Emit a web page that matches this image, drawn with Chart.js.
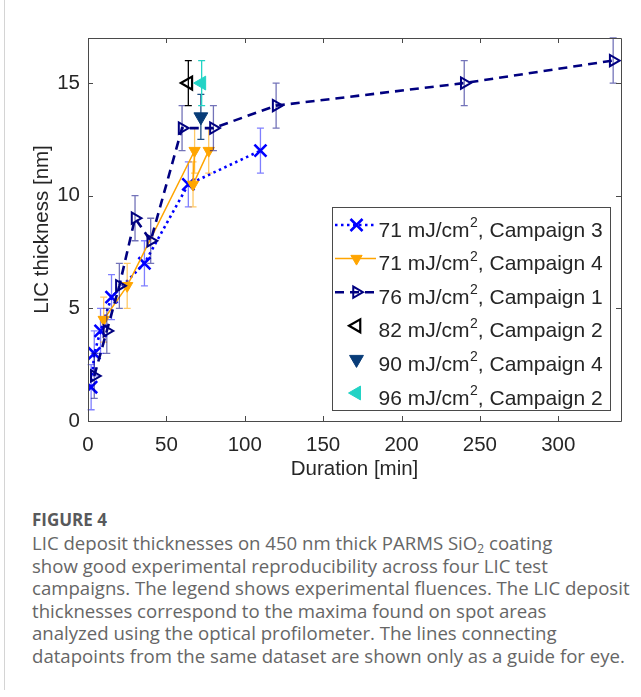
<!DOCTYPE html>
<html><head><meta charset="utf-8">
<script src="https://cdn.jsdelivr.net/npm/chart.js@4.4.1/dist/chart.umd.min.js"></script>
<style>
html,body{margin:0;padding:0;background:#fff;}
#wrap{position:relative;width:641px;height:697px;overflow:hidden;background:#fff;}
#frame{position:absolute;left:4px;top:0;width:1px;height:690px;background:#d4d4d4;}
#chart{position:absolute;left:0;top:0;}
#cap{position:absolute;left:32px;top:508px;font-family:'Open Sans',Lato,sans-serif;color:#666;}
#cap .fig{font-weight:bold;font-size:17px;color:#58595b;line-height:24px;}
#cap .ln{font-size:18.6px;line-height:22.6px;white-space:nowrap;}
#cap sub{font-size:12px;vertical-align:-3px;line-height:0;}
</style></head>
<body>
<div id="wrap">
<div id="frame"></div>
<canvas id="chart" width="641" height="490"></canvas>
<div id="cap">
<div class="fig">FIGURE 4</div>
<div class="ln">LIC deposit thicknesses on 450 nm thick PARMS SiO<sub>2</sub> coating</div>
<div class="ln">show good experimental reproducibility across four LIC test</div>
<div class="ln">campaigns. The legend shows experimental fluences. The LIC deposit</div>
<div class="ln">thicknesses correspond to the maxima found on spot areas</div>
<div class="ln">analyzed using the optical profilometer. The lines connecting</div>
<div class="ln">datapoints from the same dataset are shown only as a guide for eye.</div>
</div>
</div>
<script>
// ---- data ----
const xTickValues = [0, 50, 100, 150, 200, 250, 300];
const yTickValues = [0, 5, 10, 15];

const c3Duration  = [2, 4, 8, 15, 36, 64, 110];
const c3Thickness = [1.5, 3, 4, 5.5, 7, 10.5, 12];
const c3Error     = [1, 1, 1, 1, 1, 1, 1];

const c4Duration  = [10, 25, 68, 67, 77];
const c4Thickness = [4.5, 6, 12, 10.5, 12];
const c4Error     = [1, 1, 1, 1, 1];

const c1Duration  = [4, 12, 20, 30, 40, 60, 80, 120, 240, 335];
const c1Thickness = [2, 4, 6, 9, 8, 13, 13, 14, 15, 16];
const c1Error     = [1, 1, 1, 1, 1, 1, 1, 1, 1, 1];

const f82Duration = [64];   const f82Thickness = [15];   const f82Error = [1];
const f90Duration = [72];   const f90Thickness = [13.5]; const f90Error = [1];
const f96Duration = [72.5]; const f96Thickness = [15];   const f96Error = [1];

const legendFluence  = [71, 71, 76, 82, 90, 96];
const legendCampaign = [3, 4, 1, 2, 4, 2];

const pts = (xs, ys) => xs.map((x, i) => ({x: x, y: ys[i]}));

const NAVY = '#000080', BLUE = '#0000ff', ORANGE = '#ffa500', DARK = '#083c78', CYAN = '#22d3c5';

const datasets = [
  {label: 'c3', data: pts(c3Duration, c3Thickness), errors: c3Error, errorColor: 'rgba(0,0,255,0.5)',
   showLine: true, borderColor: BLUE, borderWidth: 2.6, borderDash: [2.5, 3.5],
   pointStyle: 'crossRot', pointRadius: 8.5, pointBorderColor: BLUE, pointBorderWidth: 2.6, pointBackgroundColor: BLUE, order: 5},
  {label: 'c4', data: pts(c4Duration, c4Thickness), errors: c4Error, errorColor: 'rgba(255,165,0,0.6)',
   showLine: true, borderColor: ORANGE, borderWidth: 1.5,
   pointStyle: 'triangle', pointRotation: 180, pointRadius: 6.5, pointBorderColor: ORANGE, pointBorderWidth: 1, pointBackgroundColor: ORANGE, order: 4},
  {label: 'c1', data: pts(c1Duration, c1Thickness), errors: c1Error, errorColor: 'rgba(0,0,128,0.55)',
   showLine: true, borderColor: NAVY, borderWidth: 2.6, borderDash: [9, 6],
   pointStyle: 'triangle', pointRotation: 90, pointRadius: 6.5, pointBorderColor: NAVY, pointBorderWidth: 2, pointBackgroundColor: 'rgba(0,0,0,0)', order: 3},
  {label: 'f82', data: pts(f82Duration, f82Thickness), errors: f82Error, errorColor: '#000',
   showLine: false, pointStyle: 'triangle', pointRotation: 270, pointRadius: 7.5, pointBorderColor: '#000', pointBorderWidth: 2.2, pointBackgroundColor: 'rgba(0,0,0,0)', order: 2},
  {label: 'f90', data: pts(f90Duration, f90Thickness), errors: f90Error, errorColor: 'rgba(8,60,120,0.9)',
   showLine: false, pointStyle: 'triangle', pointRotation: 180, pointRadius: 8, pointBorderColor: DARK, pointBorderWidth: 1, pointBackgroundColor: DARK, order: 1},
  {label: 'f96', data: pts(f96Duration, f96Thickness), errors: f96Error, errorColor: CYAN,
   showLine: false, pointStyle: 'triangle', pointRotation: 270, pointRadius: 8, pointBorderColor: CYAN, pointBorderWidth: 1, pointBackgroundColor: CYAN, order: 0}
];

const legendStyles = [0, 1, 2, 3, 4, 5].map(i => datasets[i]);

const FONT = "'Liberation Sans', Arial, sans-serif";
const TXT = '#262626';
const AXC = '#4a4a4a';

const errorBars = {
  id: 'errorBars',
  beforeDatasetDraw(chart, args) {
    const ds = chart.data.datasets[args.index];
    if (!ds.errors) return;
    const ctx = chart.ctx, xs = chart.scales.x, ys = chart.scales.y, cap = 3.5;
    ctx.save();
    ctx.strokeStyle = ds.errorColor; ctx.lineWidth = 1.3; ctx.setLineDash([]);
    ds.data.forEach((p, i) => {
      const e = ds.errors[i];
      const px = xs.getPixelForValue(p.x);
      const y1 = ys.getPixelForValue(p.y + e), y2 = ys.getPixelForValue(p.y - e);
      ctx.beginPath();
      ctx.moveTo(px, y1); ctx.lineTo(px, y2);
      ctx.moveTo(px - cap, y1); ctx.lineTo(px + cap, y1);
      ctx.moveTo(px - cap, y2); ctx.lineTo(px + cap, y2);
      ctx.stroke();
    });
    ctx.restore();
  }
};

const frameTicks = {
  id: 'frameTicks',
  afterDatasetsDraw(chart) {
    const {ctx, chartArea: a, scales: {x, y}} = chart;
    const tl = 5;
    ctx.save();
    ctx.strokeStyle = AXC; ctx.lineWidth = 1; ctx.setLineDash([]);
    ctx.beginPath();
    ctx.rect(Math.round(a.left) + 0.5, Math.round(a.top) + 0.5, Math.round(a.right - a.left), Math.round(a.bottom - a.top));
    x.ticks.forEach(t => {
      const px = Math.round(x.getPixelForValue(t.value)) + 0.5;
      ctx.moveTo(px, a.bottom); ctx.lineTo(px, a.bottom - tl);
      ctx.moveTo(px, a.top); ctx.lineTo(px, a.top + tl);
    });
    y.ticks.forEach(t => {
      const py = Math.round(y.getPixelForValue(t.value)) + 0.5;
      ctx.moveTo(a.left, py); ctx.lineTo(a.left + tl, py);
      ctx.moveTo(a.right, py); ctx.lineTo(a.right - tl, py);
    });
    ctx.stroke();
    ctx.restore();
  }
};

const boxLegend = {
  id: 'boxLegend',
  afterDraw(chart) {
    const ctx = chart.ctx;
    const L = 332, T = 207, R = 610, B = 410;
    ctx.save();
    ctx.fillStyle = '#fff';
    ctx.fillRect(L, T, R - L, B - T);
    ctx.strokeStyle = AXC; ctx.lineWidth = 1;
    ctx.strokeRect(L + 0.5, T + 0.5, R - L, B - T);
    const rowY0 = 225, dy = 33.6;
    legendStyles.forEach((ds, i) => {
      const yy = rowY0 + i * dy;
      if (ds.showLine) {
        ctx.save();
        ctx.strokeStyle = ds.borderColor; ctx.lineWidth = ds.borderWidth;
        ctx.setLineDash(ds.borderDash || []);
        ctx.beginPath(); ctx.moveTo(335, yy); ctx.lineTo(376, yy); ctx.stroke();
        ctx.restore();
      }
      ctx.save();
      ctx.setLineDash([]);
      ctx.strokeStyle = ds.pointBorderColor; ctx.fillStyle = ds.pointBackgroundColor;
      ctx.lineWidth = ds.pointBorderWidth;
      Chart.helpers.drawPoint(ctx, {pointStyle: ds.pointStyle, rotation: ds.pointRotation || 0,
        radius: ds.pointRadius, borderWidth: ds.pointBorderWidth}, 356.5, yy);
      ctx.restore();
      ctx.fillStyle = TXT;
      ctx.textBaseline = 'alphabetic'; ctx.textAlign = 'left';
      ctx.font = '21px ' + FONT;
      const base = yy + 11.5;
      let tx = 378.5;
      const a = legendFluence[i] + ' mJ/cm';
      ctx.fillText(a, tx, base); tx += ctx.measureText(a).width;
      ctx.font = '14px ' + FONT;
      ctx.fillText('2', tx + 0.5, base - 9.5); tx += ctx.measureText('2').width + 0.5;
      ctx.font = '21px ' + FONT;
      ctx.fillText(', Campaign ' + legendCampaign[i], tx, base);
    });
    ctx.restore();
  }
};

new Chart(document.getElementById('chart'), {
  type: 'scatter',
  data: {datasets: datasets},
  options: {
    responsive: false, animation: false, devicePixelRatio: 1,
    layout: {padding: {top: 38, right: 20, left: 0, bottom: 0}},
    plugins: {legend: {display: false}, tooltip: {enabled: false}},
    elements: {line: {tension: 0}},
    scales: {
      x: {
        type: 'linear', min: 0, max: 340,
        afterBuildTicks: s => { s.ticks = xTickValues.map(v => ({value: v})); },
        afterFit: s => { s.height = 69; },
        grid: {display: false, drawTicks: false}, border: {display: false},
        ticks: {padding: 12.5, color: TXT, font: {family: FONT, size: 20.5}, maxRotation: 0, autoSkip: false},
        title: {display: true, text: 'Duration [min]', color: TXT, font: {family: FONT, size: 20.5}, padding: {top: 0, bottom: 8}}
      },
      y: {
        type: 'linear', min: 0, max: 17,
        afterBuildTicks: s => { s.ticks = yTickValues.map(v => ({value: v})); },
        afterFit: s => { s.width = 88; },
        grid: {display: false, drawTicks: false}, border: {display: false},
        ticks: {padding: 8, color: TXT, font: {family: FONT, size: 20.5}, autoSkip: false},
        title: {display: true, text: 'LIC thickness [nm]', color: TXT, font: {family: FONT, size: 20.5}, padding: {top: 30, bottom: 0}}
      }
    }
  },
  plugins: [errorBars, frameTicks, boxLegend]
});
</script>
</body></html>
